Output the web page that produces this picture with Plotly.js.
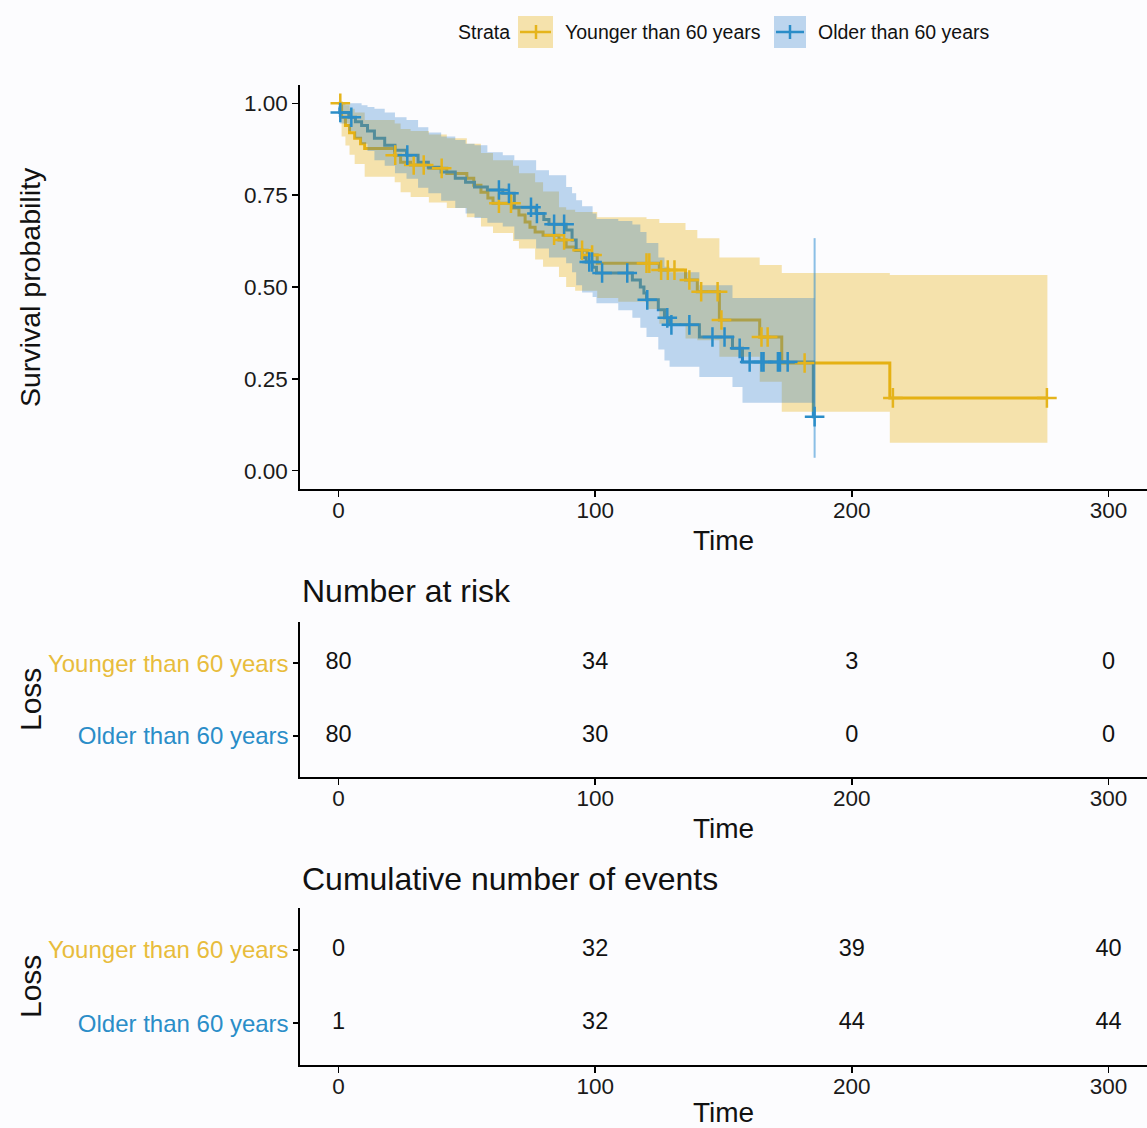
<!DOCTYPE html>
<html>
<head>
<meta charset="utf-8">
<script src="https://cdn.plot.ly/plotly-3.0.1.min.js"></script>
<style>html,body{margin:0;padding:0;background:#fcfcfe;}#chart{width:1147px;height:1128px;}</style>
</head>
<body>
<div id="chart"></div>
<script>
// ---------------- DATA ----------------
const strataNames = ["Younger than 60 years", "Older than 60 years"];

// Kaplan-Meier step curve: Younger than 60 years
const youngTime = [0, 1.2, 2.7, 4.3, 6.3, 8.6, 10.2, 21.9, 24.2, 28.1, 35.2, 42.2, 50.0, 52.7, 55.5, 58.2, 60.2, 68.0, 70.3, 72.7, 74.6, 76.6, 79.7, 85.9, 88.7, 92.2, 96.9, 100.8, 125.0, 135.2, 139.8, 148.4, 164.1, 172.7, 214.8, 276.2];
const youngSurv = [1.0, 0.962, 0.940, 0.920, 0.905, 0.890, 0.877, 0.859, 0.840, 0.832, 0.823, 0.809, 0.796, 0.777, 0.758, 0.742, 0.728, 0.715, 0.696, 0.677, 0.663, 0.650, 0.641, 0.628, 0.609, 0.600, 0.587, 0.565, 0.546, 0.519, 0.487, 0.410, 0.364, 0.293, 0.198, 0.198];
const youngCensorTime = [0.7, 22.1, 29.3, 33.2, 40.2, 62.5, 67.2, 84.0, 87.9, 94.9, 98.8, 120.0, 121.1, 125.7, 128.3, 130.9, 136.7, 141.3, 147.7, 149.2, 164.8, 167.2, 181.6, 216.0, 276.0];
const youngCensorSurv = [1.0, 0.859, 0.832, 0.832, 0.823, 0.728, 0.728, 0.641, 0.628, 0.600, 0.587, 0.565, 0.565, 0.546, 0.546, 0.546, 0.519, 0.487, 0.487, 0.410, 0.364, 0.364, 0.293, 0.198, 0.198];
const youngCiTime = [0, 1.2, 2.7, 4.3, 6.3, 10.2, 21.9, 24.2, 28.1, 35.2, 42.2, 50.0, 55.5, 60.2, 68.0, 70.3, 76.6, 79.7, 85.9, 88.7, 92.2, 100.8, 109.0, 120.0, 125.0, 135.2, 139.8, 148.4, 164.1, 172.7, 214.8, 276.2];
const youngUpper = [1.0, 1.0, 0.995, 0.985, 0.975, 0.955, 0.945, 0.930, 0.925, 0.915, 0.905, 0.890, 0.865, 0.845, 0.830, 0.810, 0.785, 0.760, 0.717, 0.710, 0.704, 0.690, 0.690, 0.685, 0.674, 0.655, 0.633, 0.580, 0.560, 0.538, 0.533, 0.533];
const youngLower = [1.0, 0.910, 0.885, 0.860, 0.835, 0.800, 0.785, 0.758, 0.745, 0.730, 0.715, 0.690, 0.665, 0.647, 0.625, 0.605, 0.575, 0.555, 0.527, 0.500, 0.490, 0.470, 0.460, 0.440, 0.400, 0.360, 0.355, 0.310, 0.242, 0.160, 0.076, 0.076];

// Kaplan-Meier step curve: Older than 60 years
const oldTime = [0, 0.5, 4.0, 6.6, 9.0, 11.3, 14.0, 18.0, 22.0, 26.5, 31.0, 35.0, 40.0, 45.5, 49.5, 53.0, 58.0, 64.0, 68.5, 77.0, 80.0, 82.0, 88.7, 91.0, 92.6, 94.9, 96.5, 99.0, 100.5, 114.5, 117.6, 119.0, 120.0, 124.6, 127.0, 129.0, 140.6, 153.5, 157.4, 185.0, 185.5];
const oldSurv = [0.9875, 0.975, 0.962, 0.950, 0.940, 0.925, 0.905, 0.886, 0.872, 0.859, 0.840, 0.826, 0.813, 0.796, 0.785, 0.772, 0.764, 0.755, 0.717, 0.700, 0.684, 0.671, 0.655, 0.628, 0.600, 0.580, 0.568, 0.554, 0.538, 0.519, 0.500, 0.484, 0.465, 0.438, 0.416, 0.397, 0.364, 0.333, 0.296, 0.147, 0.147];
const oldCensorTime = [0.7, 5.0, 26.8, 62.5, 66.4, 75.0, 77.3, 84.0, 87.9, 97.7, 98.8, 102.7, 112.5, 120.3, 128.1, 129.7, 136.7, 145.7, 150.4, 156.3, 160.2, 164.8, 165.6, 171.2, 172.0, 175.0, 185.5];
const oldCensorSurv = [0.975, 0.962, 0.859, 0.764, 0.755, 0.717, 0.700, 0.671, 0.671, 0.568, 0.568, 0.538, 0.538, 0.465, 0.416, 0.397, 0.397, 0.364, 0.364, 0.333, 0.296, 0.296, 0.296, 0.296, 0.296, 0.296, 0.147];
const oldCiTime = [0, 0.5, 4.0, 6.6, 9.0, 11.3, 14.0, 18.0, 22.0, 26.5, 31.0, 35.0, 40.0, 45.5, 49.5, 53.0, 58.0, 64.0, 68.5, 77.0, 82.0, 88.7, 91.0, 92.6, 94.9, 99.0, 100.5, 109.0, 114.5, 117.6, 120.0, 124.6, 127.0, 129.0, 140.6, 153.5, 157.4, 185.5];
const oldUpper = [1.0, 1.0, 1.0, 1.0, 0.995, 0.990, 0.985, 0.975, 0.962, 0.955, 0.935, 0.921, 0.910, 0.900, 0.890, 0.886, 0.867, 0.859, 0.845, 0.818, 0.804, 0.772, 0.755, 0.736, 0.720, 0.700, 0.685, 0.680, 0.670, 0.650, 0.620, 0.580, 0.555, 0.540, 0.505, 0.470, 0.470, 0.470];
const oldLower = [0.963, 0.945, 0.925, 0.905, 0.890, 0.870, 0.845, 0.830, 0.810, 0.795, 0.770, 0.755, 0.735, 0.715, 0.700, 0.688, 0.675, 0.665, 0.630, 0.605, 0.580, 0.565, 0.540, 0.505, 0.485, 0.473, 0.456, 0.437, 0.416, 0.389, 0.364, 0.330, 0.300, 0.283, 0.255, 0.228, 0.185, 0.185];
// last interval of the older group collapses to a vertical segment
const oldLastCiTime = [185.5, 185.5];
const oldLastCi = [0.035, 0.633];

// Tables
const tableTimes = [0, 100, 200, 300];
const riskYounger = [80, 34, 3, 0];
const riskOlder = [80, 30, 0, 0];
const eventsYounger = [0, 32, 39, 40];
const eventsOlder = [1, 32, 44, 44];
const survTicks = [0, 0.25, 0.5, 0.75, 1.0];
const timeTicks = [0, 100, 200, 300];

// ---------------- STYLE ----------------
const W = 1147, H = 1128, ML = 300;
const YEL = '#E5B41C', BLU = '#2A8DC8';
const YEL_FILL = 'rgba(230,170,0,0.32)', BLU_FILL = 'rgba(40,122,202,0.30)';
const FONT = 'Liberation Sans, Arial, sans-serif';
const px2x = p => (p - ML) / (W - ML);
const py2y = p => 1 - p / H;

function step(x, y, color) {
  return {x: x, y: y, type: 'scatter', mode: 'lines', line: {shape: 'hv', color: color, width: 3},
          hoverinfo: 'skip', showlegend: false, xaxis: 'x', yaxis: 'y'};
}
function band(x, lo, hi, fill) {
  return [
    {x: x, y: lo, type: 'scatter', mode: 'lines', line: {shape: 'hv', width: 0, color: 'rgba(0,0,0,0)'},
     hoverinfo: 'skip', showlegend: false},
    {x: x, y: hi, type: 'scatter', mode: 'lines', line: {shape: 'hv', width: 0, color: 'rgba(0,0,0,0)'},
     fill: 'tonexty', fillcolor: fill, hoverinfo: 'skip', showlegend: false}
  ];
}
function censor(x, y, color) {
  return {x: x, y: y, type: 'scatter', mode: 'markers', cliponaxis: false,
          marker: {symbol: 'cross-thin', size: 14, line: {color: color, width: 2.5}},
          hoverinfo: 'skip', showlegend: false};
}
function tableRow(yv, vals, xa, ya) {
  return {x: tableTimes, y: tableTimes.map(() => yv), text: vals.map(String), type: 'scatter', mode: 'text',
          textfont: {size: 23.5, color: '#111', family: FONT}, cliponaxis: false, hoverinfo: 'skip',
          showlegend: false, xaxis: xa, yaxis: ya};
}

const traces = [
  step(youngTime, youngSurv, YEL),
  step(oldTime, oldSurv, BLU),
  ...band(youngCiTime, youngLower, youngUpper, YEL_FILL),
  ...band(oldCiTime, oldLower, oldUpper, BLU_FILL),
  {x: oldLastCiTime, y: oldLastCi, type: 'scatter', mode: 'lines', line: {color: 'rgba(46,140,210,0.55)', width: 2},
   hoverinfo: 'skip', showlegend: false},
  censor(youngCensorTime, youngCensorSurv, YEL),
  censor(oldCensorTime, oldCensorSurv, BLU),
  tableRow(2, riskYounger, 'x2', 'y2'),
  tableRow(1, riskOlder, 'x2', 'y2'),
  tableRow(2, eventsYounger, 'x3', 'y3'),
  tableRow(1, eventsOlder, 'x3', 'y3')
];

const xBase = {range: [-15, 315], tickvals: timeTicks, showline: true, linecolor: '#000', linewidth: 1.6,
  ticks: 'outside', ticklen: 6, tickwidth: 1.6, tickcolor: '#000', showgrid: false, zeroline: false,
  ticklabelstandoff: -6,
  tickfont: {size: 22.5, color: '#1a1a1a', family: FONT}, domain: [0, 1],
  title: {text: 'Time', font: {size: 28, color: '#111', family: FONT}, standoff: 9}};
const tableY = {range: [0.43, 2.57], tickvals: [1, 2],
  ticktext: ['<span style="color:' + BLU + '">' + strataNames[1] + '</span>',
             '<span style="color:#E8BC3C">' + strataNames[0] + '</span>'],
  showline: true, linecolor: '#000', linewidth: 1.6, ticks: 'outside', ticklen: 5, tickwidth: 1.6, tickcolor: '#000',
  showgrid: false, zeroline: false, tickfont: {size: 24, family: FONT}, fixedrange: true};

const layout = {
  width: W, height: H, margin: {l: ML, r: 0, t: 0, b: 0},
  paper_bgcolor: '#fcfcfe', plot_bgcolor: '#fcfcfe', showlegend: false,
  font: {family: FONT, color: '#111'},
  xaxis: Object.assign({}, xBase, {anchor: 'y'}),
  yaxis: {domain: [py2y(489), py2y(85)], range: [-0.05, 1.05], tickvals: survTicks, tickformat: '.2f',
    showline: true, linecolor: '#000', linewidth: 1.6, ticks: 'outside', ticklen: 6, tickwidth: 1.6, tickcolor: '#000',
    showgrid: false, zeroline: false, tickfont: {size: 22.5, color: '#1a1a1a', family: FONT}, anchor: 'x'},
  xaxis2: Object.assign({}, xBase, {anchor: 'y2'}),
  yaxis2: Object.assign({}, tableY, {domain: [py2y(777), py2y(622)], anchor: 'x2'}),
  xaxis3: Object.assign({}, xBase, {anchor: 'y3'}),
  yaxis3: Object.assign({}, tableY, {domain: [py2y(1065), py2y(908)], anchor: 'x3'}),
  shapes: [
    {type: 'rect', xref: 'paper', yref: 'paper', x0: px2x(518), x1: px2x(553), y0: py2y(48), y1: py2y(16), fillcolor: YEL_FILL, line: {width: 0}},
    {type: 'line', xref: 'paper', yref: 'paper', x0: px2x(520), x1: px2x(551), y0: py2y(32), y1: py2y(32), line: {color: YEL, width: 2.5}},
    {type: 'line', xref: 'paper', yref: 'paper', x0: px2x(536), x1: px2x(536), y0: py2y(25), y1: py2y(39), line: {color: YEL, width: 2.5}},
    {type: 'rect', xref: 'paper', yref: 'paper', x0: px2x(774), x1: px2x(806), y0: py2y(48), y1: py2y(16), fillcolor: BLU_FILL, line: {width: 0}},
    {type: 'line', xref: 'paper', yref: 'paper', x0: px2x(776), x1: px2x(804), y0: py2y(32), y1: py2y(32), line: {color: BLU, width: 2.5}},
    {type: 'line', xref: 'paper', yref: 'paper', x0: px2x(790), x1: px2x(790), y0: py2y(25), y1: py2y(39), line: {color: BLU, width: 2.5}}
  ],
  annotations: [
    {text: 'Strata', xref: 'paper', yref: 'paper', x: px2x(456), y: py2y(32), xanchor: 'left', yanchor: 'middle', showarrow: false, font: {size: 19.5, color: '#111'}},
    {text: strataNames[0], xref: 'paper', yref: 'paper', x: px2x(563), y: py2y(32), xanchor: 'left', yanchor: 'middle', showarrow: false, font: {size: 19.5, color: '#111'}},
    {text: strataNames[1], xref: 'paper', yref: 'paper', x: px2x(816), y: py2y(32), xanchor: 'left', yanchor: 'middle', showarrow: false, font: {size: 19.5, color: '#111'}},
    {text: 'Survival probability', xref: 'paper', yref: 'paper', x: px2x(30), y: py2y(287), xanchor: 'center', yanchor: 'middle', textangle: -90, showarrow: false, font: {size: 28.5, color: '#111'}},
    {text: 'Number at risk', xref: 'paper', yref: 'paper', x: px2x(300), y: py2y(591), xanchor: 'left', yanchor: 'middle', showarrow: false, font: {size: 32, color: '#111'}},
    {text: 'Loss', xref: 'paper', yref: 'paper', x: px2x(30), y: py2y(700), xanchor: 'center', yanchor: 'middle', textangle: -90, showarrow: false, font: {size: 30, color: '#111'}},
    {text: 'Cumulative number of events', xref: 'paper', yref: 'paper', x: px2x(300), y: py2y(879), xanchor: 'left', yanchor: 'middle', showarrow: false, font: {size: 32, color: '#111'}},
    {text: 'Loss', xref: 'paper', yref: 'paper', x: px2x(30), y: py2y(987), xanchor: 'center', yanchor: 'middle', textangle: -90, showarrow: false, font: {size: 30, color: '#111'}}
  ]
};

Plotly.newPlot('chart', traces, layout, {displayModeBar: false, staticPlot: true});
</script>
</body>
</html>
